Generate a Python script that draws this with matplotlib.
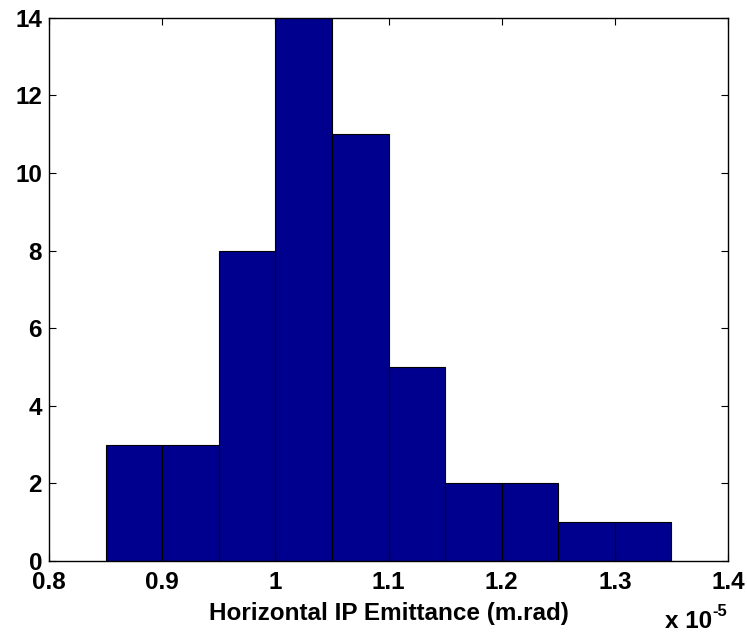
import matplotlib.pyplot as plt
import numpy as np

# bin edges in units of 1e-5 m.rad
edges = [0.85, 0.90, 0.95, 1.00, 1.05, 1.10, 1.15, 1.20, 1.25, 1.30, 1.35]
counts = [3, 3, 8, 14, 11, 5, 2, 2, 1, 1]
xticks = [0.8, 0.9, 1.0, 1.1, 1.2, 1.3, 1.4]
yticks = [0, 2, 4, 6, 8, 10, 12, 14]

plt.rcParams['font.family'] = ['Liberation Sans', 'DejaVu Sans']
plt.rcParams['font.weight'] = 'bold'
plt.rcParams['font.size'] = 17.5

fig = plt.figure(figsize=(7.47, 6.36), dpi=100)
ax = fig.add_axes([0.0656, 0.118, 0.909, 0.854])

left = np.array(edges[:-1])
widths = np.diff(edges)
ax.bar(left, counts, width=widths, align='edge', color='#00008F',
       edgecolor='black', linewidth=0.8)

ax.set_xlim(0.8, 1.4)
ax.set_ylim(0, 14)
ax.set_xticks(xticks)
ax.set_xticklabels(['%g' % v for v in xticks])
ax.set_yticks(yticks)
ax.tick_params(direction='in', top=True, right=True, length=5)
ax.tick_params(axis='x', pad=7)
ax.tick_params(axis='y', pad=5)
for s in ax.spines.values():
    s.set_linewidth(1.0)

ax.set_xlabel('Horizontal IP Emittance (m.rad)', fontweight='bold', labelpad=6)
# MATLAB style exponent label
fig.text(712 / 747, 1 - 628 / 636, 'x 10', ha='right', va='baseline',
         fontweight='bold')
fig.text(712 / 747, 1 - 616 / 636, '-5', ha='left', va='baseline',
         fontweight='bold', fontsize=12)

fig.savefig('out.png', dpi=100)
